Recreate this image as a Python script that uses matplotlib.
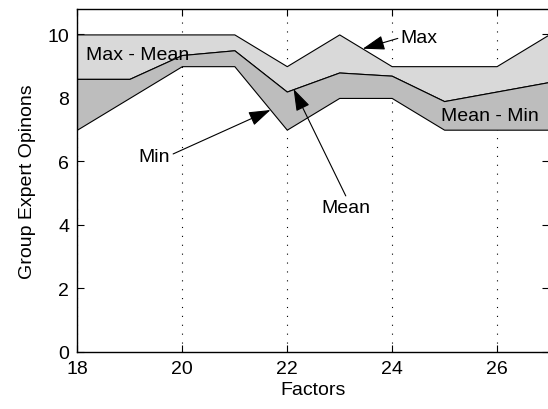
import numpy as np
import matplotlib.pyplot as plt
from matplotlib import rcParams

# 字體設定
rcParams['font.family'] = ['Liberation Sans', 'DejaVu Sans']
rcParams['font.size'] = 14

# 各因子的專家意見 (最大、平均、最小)
factors = [18, 19, 20, 21, 22, 23, 24, 25, 26, 27]
max_op = [10, 10, 10, 10, 9, 10, 9, 9, 9, 10]
mean_op = [8.6, 8.6, 9.35, 9.5, 8.2, 8.8, 8.7, 7.9, 8.2, 8.5]
min_op = [7, 8, 9, 9, 7, 8, 8, 7, 7, 7]

x_ticks = [18, 20, 22, 24, 26]
y_ticks = [0, 2, 4, 6, 8, 10]

fig = plt.figure(figsize=(5.48, 4.10), dpi=100)
ax = fig.add_axes([77 / 548, 57 / 410, 472 / 548, 343 / 410])

# 兩層面積圖: 平均~最大, 最小~平均
ax.fill_between(factors, mean_op, max_op, facecolor='#d9d9d9', edgecolor='k', linewidth=0.8, zorder=2)
ax.fill_between(factors, min_op, mean_op, facecolor='#bdbdbd', edgecolor='k', linewidth=0.8, zorder=2)

ax.set_xlim(18, 27)
ax.set_ylim(0, 10.8)
ax.set_xticks(x_ticks)
ax.set_yticks(y_ticks)
ax.tick_params(direction='in', top=True, right=True, length=5, width=0.8, pad=5.5)
for s in ax.spines.values():
    s.set_linewidth(1.0)

# x 方向的點狀格線
ax.grid(axis='x', color='k', linestyle=(0, (1, 7)), linewidth=0.8, zorder=1)
ax.set_axisbelow(True)

ax.set_xlabel('Factors', labelpad=3)
ax.set_ylabel('Group Expert Opinons', labelpad=8)

# 區域標註
ax.text(18.17, 9.37, 'Max - Mean', ha='left', va='center', zorder=3)
ax.text(24.94, 7.44, 'Mean - Min', ha='left', va='center', zorder=3)


def arrow(rel):
    return dict(arrowstyle='-|>,head_length=0.9,head_width=0.3', color='k', lw=0.8,
                mutation_scale=15, shrinkA=0, shrinkB=0, relpos=rel)


# 曲線標註箭頭
ax.annotate('Max', xy=(23.45, 9.55), xytext=(24.17, 9.9), ha='left', va='center',
            arrowprops=arrow((0, 0.5)), zorder=4)
ax.annotate('Min', xy=(21.69, 7.62), xytext=(19.78, 6.17), ha='right', va='center',
            arrowprops=arrow((1, 0.55)), zorder=4)
ax.annotate('Mean', xy=(22.13, 8.28), xytext=(23.12, 4.56), ha='center', va='center',
            arrowprops=arrow((0.55, 0.9)), zorder=4)

plt.savefig('out.png', dpi=100)
